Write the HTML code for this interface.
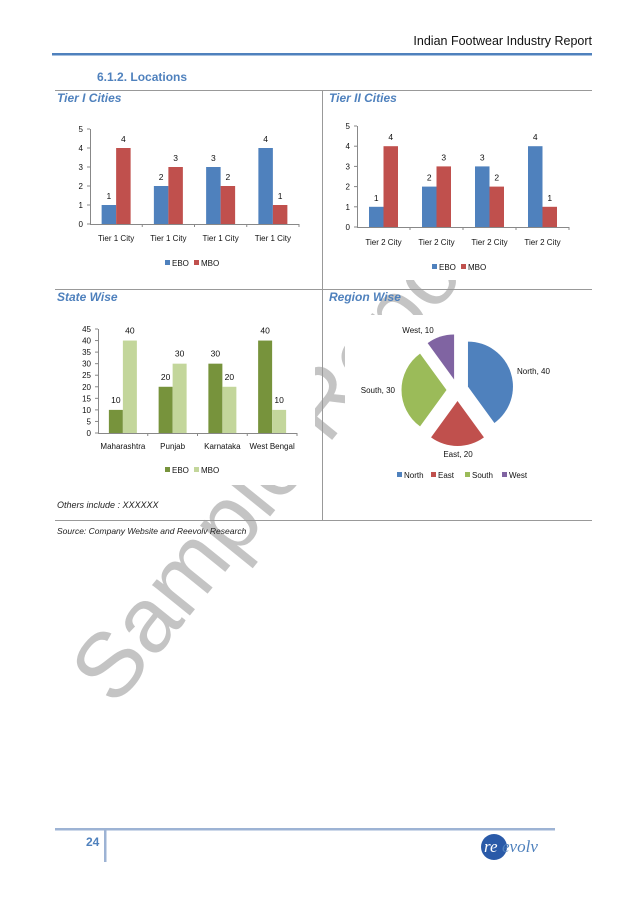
<!DOCTYPE html>
<html><head><meta charset="utf-8"><style>
html,body{margin:0;padding:0;background:#fff}
svg{display:block;font-family:"Liberation Sans",Arial,sans-serif}
</style></head><body>
<svg id="page" width="638" height="903" viewBox="0 0 638 903">
<g>
<text x="115" y="708" transform="rotate(-51 115 708)" font-size="92" fill="#c4c4c4">Sample Report</text>
</g>
<g fill="#fff">
<rect x="60" y="310" width="255" height="175"/>
<rect x="345" y="315" width="245" height="172"/>
<rect x="330" y="108" width="260" height="172"/>
</g>
<text x="592" y="45" text-anchor="end" font-size="12.5" fill="#111">Indian Footwear Industry Report</text>
<rect x="52" y="53" width="540" height="2.5" fill="#4F81BD"/>
<text x="97" y="81" font-size="12" font-weight="bold" fill="#4F81BD">6.1.2.   Locations</text>
<line x1="55" y1="90.5" x2="592" y2="90.5" stroke="#999"/>
<line x1="55" y1="289.5" x2="592" y2="289.5" stroke="#999"/>
<line x1="55" y1="520.5" x2="592" y2="520.5" stroke="#999"/>
<line x1="322.5" y1="90" x2="322.5" y2="521" stroke="#999"/>
<g font-style="italic" font-weight="bold" font-size="12" fill="#4F81BD">
<text x="57" y="102">Tier I Cities</text>
<text x="329" y="102">Tier II Cities</text>
<text x="57" y="301">State Wise</text>
<text x="329" y="301">Region Wise</text>
</g>
<text x="57" y="508" font-size="9" font-style="italic" fill="#222">Others include  :  XXXXXX</text>
<text x="57" y="534" font-size="8.5" font-style="italic" fill="#222">Source: Company Website and Reevolv Research</text>
<g id="charts"></g>
<rect x="55" y="828" width="500" height="2.5" fill="#9DB3D4"/>
<rect x="104" y="830" width="2.5" height="32" fill="#9DB3D4"/>
<text x="86" y="846" font-size="12" font-weight="bold" fill="#4F81BD">24</text>
<g>
<ellipse cx="494" cy="847" rx="13" ry="13" fill="#2a5aa8"/>
<text x="484" y="852" font-family="Liberation Serif,serif" font-style="italic" font-size="17" fill="#fff">re</text>
<text x="502" y="852" font-family="Liberation Serif,serif" font-style="italic" font-size="17" fill="#4F81BD">evolv</text>
</g>
</svg>
<script>
const tier1Cats=["Tier 1 City","Tier 1 City","Tier 1 City","Tier 1 City"];
const tier1Ebo=[1,2,3,4];
const tier1Mbo=[4,3,2,1];
const tier1Ticks=[0,1,2,3,4,5];
const tier2Cats=["Tier 2 City","Tier 2 City","Tier 2 City","Tier 2 City"];
const tier2Ebo=[1,2,3,4];
const tier2Mbo=[4,3,2,1];
const tier2Ticks=[0,1,2,3,4,5];
const stateCats=["Maharashtra","Punjab","Karnataka","West Bengal"];
const stateEbo=[10,20,30,40];
const stateMbo=[40,30,20,10];
const stateTicks=[0,5,10,15,20,25,30,35,40,45];
const regionCats=["North","East","South","West"];
const regionVals=[40,20,30,10];
const regionColors=["#4F81BD","#C0504D","#9BBB59","#8064A2"];

const NS="http://www.w3.org/2000/svg";
const root=document.getElementById('charts');
function mk(tag,attrs,parent){const e=document.createElementNS(NS,tag);for(const k in attrs)e.setAttribute(k,attrs[k]);(parent||root).appendChild(e);return e;}
function txt(x,y,s,size,anchor,parent){const t=mk('text',{x:x,y:y,'font-size':size,'text-anchor':anchor||'middle',fill:'#111'},parent);t.textContent=s;return t;}

function barChart(o){
  const g=mk('g',{});
  
  
  const max=o.ticks[o.ticks.length-1];
  const y=v=>o.y0-(v/max)*(o.y0-o.yTop);
  const gw=(o.x1-o.x0)/o.cats.length;
  const x=i=>o.x0+gw*i+gw/2;
  o.ticks.forEach(t=>{
    const l=txt(o.x0-7,y(t)+3,String(t),8,'end',g);
    
    
    mk('line',{x1:o.x0-3,x2:o.x0,y1:y(t),y2:y(t),stroke:'#888'},g);
  });
  mk('line',{x1:o.x0+.5,x2:o.x0+.5,y1:o.yTop,y2:o.y0,stroke:'#888'},g);
  mk('line',{x1:o.x0,x2:o.x1,y1:o.y0+.5,y2:o.y0+.5,stroke:'#888'},g);
  o.cats.forEach((c,i)=>{
    mk('line',{x1:o.x0+gw*(i+1),x2:o.x0+gw*(i+1),y1:o.y0,y2:o.y0+3,stroke:'#888'},g);
    const cx=x(i);
    [[o.ebo[i],o.c1,-1],[o.mbo[i],o.c2,0]].forEach(([v,col,off],k)=>{
      const bx=cx+off*o.bw;
      const r=mk('rect',{x:bx,y:y(v),width:o.bw,height:o.y0-y(v),fill:col},g);
      
      
      const l=txt(bx+o.bw/2,y(v)-o.lblOff,String(v),8.5,'middle',g);
      
      
    });
    const cl=txt(cx,o.catY,c,8,'middle',g);
    
    
  });
  const lx=o.legX;
  const lg=mk('g',{},g);
  
  
  mk('rect',{x:lx,y:o.legY-6,width:5,height:5,fill:o.c1},lg);
  txt(lx+7,o.legY,'EBO',8,'start',lg);
  mk('rect',{x:lx+29,y:o.legY-6,width:5,height:5,fill:o.c2},lg);
  txt(lx+36,o.legY,'MBO',8,'start',lg);
}
barChart({name:'tier1-chart',cats:tier1Cats,ebo:tier1Ebo,mbo:tier1Mbo,ticks:tier1Ticks,x0:90,x1:299,y0:224,yTop:129,bw:14.5,c1:'#4F81BD',c2:'#C0504D',catY:241,legX:165,legY:266,lblOff:6});
barChart({name:'tier2-chart',cats:tier2Cats,ebo:tier2Ebo,mbo:tier2Mbo,ticks:tier2Ticks,x0:357,x1:569,y0:227,yTop:126,bw:14.5,c1:'#4F81BD',c2:'#C0504D',catY:245,legX:432,legY:270,lblOff:6});
barChart({name:'state-chart',cats:stateCats,ebo:stateEbo,mbo:stateMbo,ticks:stateTicks,x0:98,x1:297,y0:433,yTop:329,bw:14,c1:'#77933C',c2:'#C3D69B',catY:449,legX:165,legY:473,lblOff:7});

(function(){
  const cx=457.5,cy=390,r=45,ex=11;
  const g=mk('g',{});
  
  
  const total=regionVals.reduce((a,b)=>a+b,0);
  let a0=0;
  const lblPos=[[517,374,'start'],[458,457,'middle'],[395,393,'end'],[418,333,'middle']];
  regionVals.forEach((v,i)=>{
    const a1=a0+v/total*2*Math.PI, am=(a0+a1)/2;
    const ox=cx+Math.sin(am)*ex, oy=cy-Math.cos(am)*ex;
    const p=(a)=>[ox+Math.sin(a)*r,oy-Math.cos(a)*r];
    const s=p(a0),e=p(a1);
    const large=(a1-a0)>Math.PI?1:0;
    const path=mk('path',{d:`M${ox},${oy}L${s[0]},${s[1]}A${r},${r} 0 ${large} 1 ${e[0]},${e[1]}Z`,fill:regionColors[i]},g);
    
    
    const lp=lblPos[i];
    const l=txt(lp[0],lp[1],regionCats[i]+', '+v,8,lp[2],g);
    
    
    a0=a1;
  });
  const lg=mk('g',{},g);
  
  
  let lx=397;
  const widths=[34,34,37,30];
  regionCats.forEach((c,i)=>{
    mk('rect',{x:lx,y:472,width:5,height:5,fill:regionColors[i]},lg);
    txt(lx+7,478,c,8,'start',lg);
    lx+=widths[i];
  });
})();
</script>
</body></html>
